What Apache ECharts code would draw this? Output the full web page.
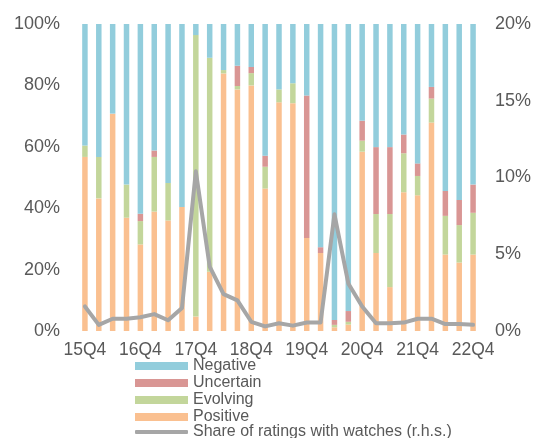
<!DOCTYPE html>
<html>
<head>
<meta charset="utf-8">
<script src="https://cdn.jsdelivr.net/npm/echarts@6/dist/echarts.min.js"></script>
<style>
  html, body { margin: 0; padding: 0; background: #fff; }
  #chart { width: 535px; height: 438px; }
</style>
</head>
<body>
<div id="chart"></div>
<script>
// Quarterly distribution of rating outlooks (l.h.s.) and share of ratings on watch (r.h.s.)
const quarters = [
  '15Q4','16Q1','16Q2','16Q3','16Q4','17Q1','17Q2','17Q3','17Q4','18Q1',
  '18Q2','18Q3','18Q4','19Q1','19Q2','19Q3','19Q4','20Q1','20Q2','20Q3',
  '20Q4','21Q1','21Q2','21Q3','21Q4','22Q1','22Q2','22Q3','22Q4'
];
const positive = [56.7,43.2,70.8,36.9,28.2,38.9,36.0,40.4,4.7,19.3,83.9,78.7,80.0,46.4,74.5,74.2,30.3,25.4,1.2,2.1,58.4,25.4,14.3,45.2,44.2,67.9,24.9,22.3,24.9];
const evolving = [3.7,13.5,0,10.8,7.6,17.8,12.2,0,91.7,69.7,1.1,1.1,4.0,7.1,4.2,6.5,0,0,0.8,0.9,3.6,12.7,23.8,12.7,6.3,7.8,12.6,12.2,13.6];
const uncertain = [0,0,0,0,2.4,2.1,0,0,0,0,0,6.6,2.0,3.6,0,0,46.4,1.9,1.6,3.5,6.5,21.8,21.8,6.1,4.1,3.8,8.1,8.2,9.2];
const negative = [39.6,43.3,29.2,52.3,61.8,41.2,51.8,59.6,3.6,11.0,15.0,13.6,14.0,42.9,21.3,19.3,23.3,72.7,96.4,93.5,31.5,40.1,40.1,36.0,45.4,20.5,54.4,57.3,52.3];
const watchShare = [1.6,0.4,0.8,0.8,0.9,1.1,0.7,1.5,10.4,4.2,2.4,2.0,0.6,0.3,0.5,0.35,0.55,0.55,7.6,3.1,1.6,0.5,0.5,0.55,0.8,0.8,0.45,0.45,0.4];
const leftTicks = [0, 20, 40, 60, 80, 100];
const rightTicks = [0, 5, 10, 15, 20];

const FONT = '"Liberation Sans", Arial, sans-serif';
const TEXT = '#595959';
const LINE_NAME = 'Share of ratings with watches (r.h.s.)';
const colors = {
  Negative: '#92CDDC',
  Uncertain: '#D99694',
  Evolving: '#C3D69B',
  Positive: '#FAC090',
  Line: '#A6A6A6'
};

function barSeries(name, data) {
  return {
    name: name,
    type: 'bar',
    stack: 'outlook',
    data: data,
    barWidth: 5.5,
    itemStyle: { color: colors[name] },
    emphasis: { disabled: true }
  };
}

const legendText = { fontSize: 16, color: TEXT, fontFamily: FONT, lineHeight: 16 };

const chart = echarts.init(document.getElementById('chart'), null, { renderer: 'canvas' });
chart.setOption({
  animation: false,
  backgroundColor: '#ffffff',
  textStyle: { fontFamily: FONT },
  grid: { left: 78, right: 55, top: 24, bottom: 107 },
  legend: [
    {
      orient: 'vertical',
      left: 130,
      top: 353,
      itemWidth: 53,
      itemHeight: 8,
      itemGap: 1,
      icon: 'rect',
      textStyle: legendText,
      data: ['Negative', 'Uncertain', 'Evolving', 'Positive']
    },
    {
      orient: 'vertical',
      left: 130,
      top: 419,
      itemWidth: 53,
      itemHeight: 4,
      icon: 'roundRect',
      textStyle: legendText,
      data: [LINE_NAME]
    }
  ],
  xAxis: {
    type: 'category',
    data: quarters,
    axisLine: { show: false },
    axisTick: { show: false },
    axisLabel: { interval: 3, fontSize: 17.5, color: TEXT, fontFamily: FONT, margin: 10 }
  },
  yAxis: [
    {
      type: 'value',
      min: leftTicks[0],
      max: leftTicks[leftTicks.length - 1],
      interval: leftTicks[1] - leftTicks[0],
      splitLine: { show: false },
      axisLine: { show: false },
      axisTick: { show: false },
      axisLabel: { formatter: '{value}%', fontSize: 18, color: TEXT, fontFamily: FONT, margin: 18 }
    },
    {
      type: 'value',
      min: rightTicks[0],
      max: rightTicks[rightTicks.length - 1],
      interval: rightTicks[1] - rightTicks[0],
      splitLine: { show: false },
      axisLine: { show: false },
      axisTick: { show: false },
      axisLabel: { formatter: '{value}%', fontSize: 18, color: TEXT, fontFamily: FONT, margin: 15 }
    }
  ],
  series: [
    barSeries('Positive', positive),
    barSeries('Evolving', evolving),
    barSeries('Uncertain', uncertain),
    barSeries('Negative', negative),
    {
      name: LINE_NAME,
      type: 'line',
      yAxisIndex: 1,
      data: watchShare,
      symbol: 'none',
      lineStyle: { color: colors.Line, width: 4, cap: 'round', join: 'round' },
      itemStyle: { color: colors.Line },
      emphasis: { disabled: true },
      z: 5
    }
  ]
});
</script>
</body>
</html>
